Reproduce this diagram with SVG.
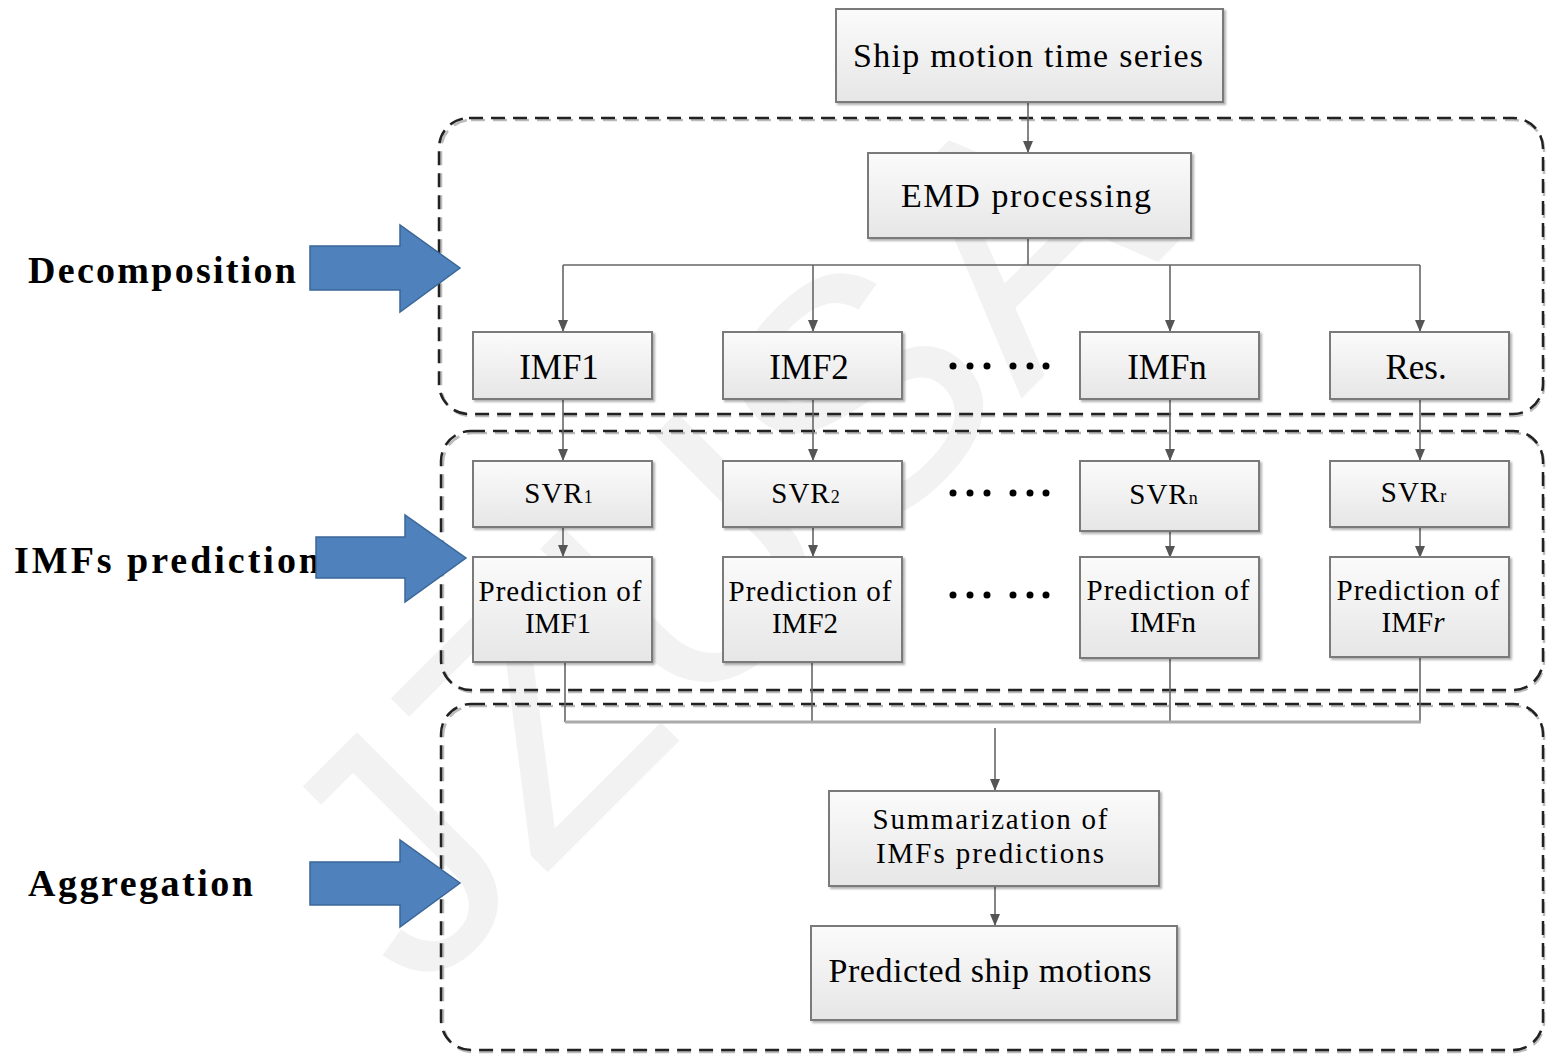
<svg xmlns="http://www.w3.org/2000/svg" width="1546" height="1055" viewBox="0 0 1546 1055">
<defs>
<linearGradient id="g" x1="0" y1="0" x2="0" y2="1"><stop offset="0" stop-color="#fbfbfb"/><stop offset="1" stop-color="#e6e6e6"/></linearGradient>
<marker id="ah" markerWidth="12" markerHeight="12" viewBox="0 0 12 12" refX="11" refY="6" orient="auto" markerUnits="userSpaceOnUse"><path d="M0,1 L12,6 L0,11 Z" fill="#555"/></marker>
<filter id="sh" x="-10%" y="-10%" width="120%" height="130%"><feDropShadow dx="2" dy="2" stdDeviation="1.2" flood-color="#000" flood-opacity="0.3"/></filter>
</defs>
<style>
.box{fill:url(#g);stroke:#7a7a7a;stroke-width:2;filter:url(#sh)}
.t{font-family:"Liberation Serif","Times New Roman",serif;fill:#000;text-anchor:middle}
.big{font-size:34px}
.imf{font-size:35px}
.mid{font-size:29px}
.lbl{font-family:"Liberation Serif","Times New Roman",serif;font-weight:bold;font-size:38px;fill:#000}
.dash{fill:none;stroke:#222;stroke-width:2.5;stroke-dasharray:14 8}
.dsh{fill:none;stroke:#bbb;stroke-width:2.5;stroke-dasharray:14 8}
.c{fill:none;stroke:#666;stroke-width:1.6}
.ca{fill:none;stroke:#666;stroke-width:1.6;marker-end:url(#ah)}
.bl{fill:#4f81bd;stroke:#3b6798;stroke-width:1.5}
.dot{fill:#000}
.wm{font-family:"Liberation Sans",Arial,sans-serif;font-size:340px;fill:#f2f2f2}
</style>
<rect width="1546" height="1055" fill="#fff"/>
<g id="watermark">
<text class="wm" x="420" y="1000" transform="rotate(-45 420 1000)">J</text>
<text class="wm" x="540" y="880" transform="rotate(-45 540 880)">Z</text>
<text class="wm" x="687" y="733" transform="rotate(-45 687 733)">U</text>
<text class="wm" x="861" y="559" transform="rotate(-45 861 559)">S</text>
<text class="wm" x="1021" y="399" transform="rotate(-45 1021 399)">A</text>
</g>

<g id="regions">
<rect class="dsh" x="441" y="120" width="1103" height="296" rx="30"/>
<rect class="dash" x="439" y="118" width="1104" height="296" rx="30"/>
<rect class="dsh" x="443" y="433" width="1101" height="259" rx="30"/>
<rect class="dash" x="441" y="431" width="1102" height="259" rx="30"/>
<rect class="dsh" x="443" y="706" width="1101" height="346" rx="30"/>
<rect class="dash" x="441" y="704" width="1102" height="346" rx="30"/>
</g>

<g id="connectors">
<line class="ca" x1="1028" y1="102" x2="1028" y2="152"/>
<polyline class="c" points="1028,238 1028,265"/>
<line class="c" x1="563" y1="265" x2="1420" y2="265"/>
<line class="ca" x1="563" y1="265" x2="563" y2="331"/>
<line class="ca" x1="813" y1="265" x2="813" y2="331"/>
<line class="ca" x1="1170" y1="265" x2="1170" y2="331"/>
<line class="ca" x1="1420" y1="265" x2="1420" y2="331"/>
<line class="ca" x1="563" y1="399" x2="563" y2="460"/>
<line class="ca" x1="813" y1="399" x2="813" y2="460"/>
<line class="ca" x1="1170" y1="399" x2="1170" y2="460"/>
<line class="ca" x1="1420" y1="399" x2="1420" y2="460"/>
<line class="ca" x1="563" y1="527" x2="563" y2="556"/>
<line class="ca" x1="813" y1="527" x2="813" y2="556"/>
<line class="ca" x1="1170" y1="531" x2="1170" y2="557"/>
<line class="ca" x1="1420" y1="527" x2="1420" y2="557"/>
<line class="c" x1="565" y1="662" x2="565" y2="722"/>
<line class="c" x1="812" y1="662" x2="812" y2="722"/>
<line class="c" x1="1170" y1="658" x2="1170" y2="722"/>
<line class="c" x1="1420" y1="657" x2="1420" y2="722"/>
<line x1="565" y1="722" x2="1421" y2="722" stroke="#aaa" stroke-width="3"/>
<line class="ca" x1="995" y1="728" x2="995" y2="790"/>
<line class="ca" x1="995" y1="886" x2="995" y2="925"/>
</g>

<g id="n-ship"><rect class="box" x="836" y="9" width="387" height="93"/><text class="t big" x="1028" y="67" textLength="350" lengthAdjust="spacing">Ship motion time series</text></g>
<g id="n-emd"><rect class="box" x="868" y="153" width="323" height="85"/><text class="t big" x="1026" y="207" textLength="250" lengthAdjust="spacing">EMD processing</text></g>

<g id="n-imf1"><rect class="box" x="473" y="332" width="179" height="67"/><text class="t imf" x="559" y="379">IMF1</text></g>
<g id="n-imf2"><rect class="box" x="723" y="332" width="179" height="67"/><text class="t imf" x="809" y="379">IMF2</text></g>
<g id="n-imfn"><rect class="box" x="1080" y="332" width="179" height="67"/><text class="t imf" x="1167" y="379">IMFn</text></g>
<g id="n-res"><rect class="box" x="1330" y="332" width="179" height="67"/><text class="t imf" x="1416" y="379">Res.</text></g>

<g id="dots">
<circle class="dot" cx="953" cy="366" r="3.5"/><circle class="dot" cx="970" cy="366" r="3.5"/><circle class="dot" cx="987" cy="366" r="3.5"/>
<circle class="dot" cx="1013" cy="366" r="3.5"/><circle class="dot" cx="1030" cy="366" r="3.5"/><circle class="dot" cx="1046" cy="366" r="3.5"/>
<circle class="dot" cx="953" cy="493" r="3.5"/><circle class="dot" cx="970" cy="493" r="3.5"/><circle class="dot" cx="987" cy="493" r="3.5"/>
<circle class="dot" cx="1013" cy="493" r="3.5"/><circle class="dot" cx="1030" cy="493" r="3.5"/><circle class="dot" cx="1046" cy="493" r="3.5"/>
<circle class="dot" cx="953" cy="595" r="3.5"/><circle class="dot" cx="970" cy="595" r="3.5"/><circle class="dot" cx="987" cy="595" r="3.5"/>
<circle class="dot" cx="1013" cy="595" r="3.5"/><circle class="dot" cx="1030" cy="595" r="3.5"/><circle class="dot" cx="1046" cy="595" r="3.5"/>
</g>

<g id="n-svr1"><rect class="box" x="473" y="461" width="179" height="66"/><text class="t mid" x="559" y="503" letter-spacing="1">SVR<tspan font-size="18px">1</tspan></text></g>
<g id="n-svr2"><rect class="box" x="723" y="461" width="179" height="66"/><text class="t mid" x="806" y="503" letter-spacing="1">SVR<tspan font-size="18px">2</tspan></text></g>
<g id="n-svrn"><rect class="box" x="1080" y="461" width="179" height="70"/><text class="t mid" x="1164" y="504" letter-spacing="1">SVR<tspan font-size="18px">n</tspan></text></g>
<g id="n-svrr"><rect class="box" x="1330" y="461" width="179" height="66"/><text class="t mid" x="1414" y="502" letter-spacing="1">SVR<tspan font-size="18px">r</tspan></text></g>

<g id="n-p1"><rect class="box" x="473" y="557" width="179" height="105"/><text class="t mid" x="560" y="601" textLength="163" lengthAdjust="spacing">Prediction of</text><text class="t mid" x="558" y="633">IMF1</text></g>
<g id="n-p2"><rect class="box" x="723" y="557" width="179" height="105"/><text class="t mid" x="810" y="601" textLength="163" lengthAdjust="spacing">Prediction of</text><text class="t mid" x="805" y="633">IMF2</text></g>
<g id="n-pn"><rect class="box" x="1080" y="557" width="179" height="101"/><text class="t mid" x="1168" y="600" textLength="163" lengthAdjust="spacing">Prediction of</text><text class="t mid" x="1163" y="632">IMFn</text></g>
<g id="n-pr"><rect class="box" x="1330" y="557" width="179" height="100"/><text class="t mid" x="1418" y="600" textLength="163" lengthAdjust="spacing">Prediction of</text><text class="t mid" x="1413" y="632">IMF<tspan font-style="italic">r</tspan></text></g>

<g id="n-sum"><rect class="box" x="829" y="791" width="330" height="95"/><text class="t mid" x="990" y="829" textLength="235" lengthAdjust="spacing">Summarization of</text><text class="t mid" x="990" y="863" textLength="228" lengthAdjust="spacing">IMFs predictions</text></g>
<g id="n-pred"><rect class="box" x="811" y="926" width="366" height="94"/><text class="t big" x="990" y="982" textLength="323" lengthAdjust="spacing">Predicted ship motions</text></g>

<g id="labels">
<text class="lbl" x="28" y="283" textLength="268" lengthAdjust="spacing">Decomposition</text>
<text class="lbl" x="14" y="573" textLength="306" lengthAdjust="spacing">IMFs prediction</text>
<text class="lbl" x="28" y="896" textLength="225" lengthAdjust="spacing">Aggregation</text>
</g>

<g id="blue-arrows">
<path class="bl" d="M310,246 L400,246 L400,225 L460,268 L400,312 L400,290 L310,290 Z"/>
<path class="bl" d="M316,537 L405,537 L405,515 L466,558 L405,602 L405,578 L316,578 Z"/>
<path class="bl" d="M310,862 L400,862 L400,840 L460,883 L400,927 L400,905 L310,905 Z"/>
</g>
</svg>
